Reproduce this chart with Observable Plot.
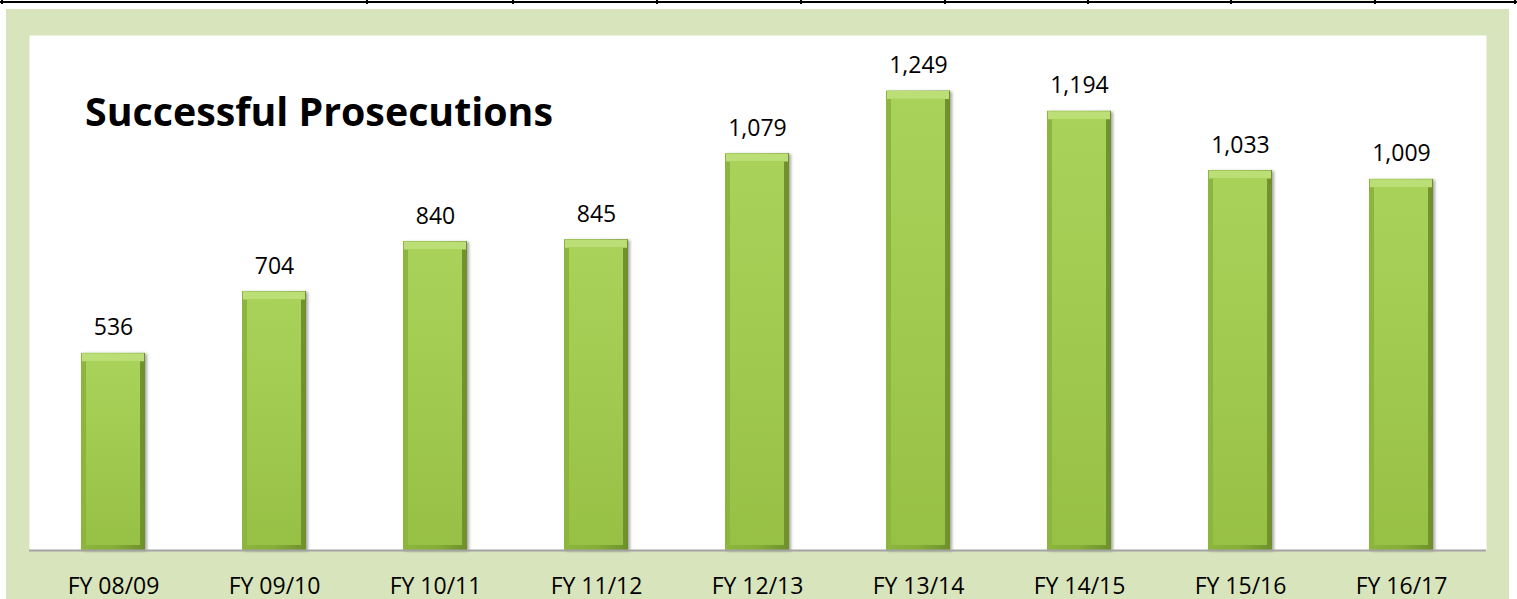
<!DOCTYPE html>
<html>
<head>
<meta charset="utf-8">
<script src="https://cdn.jsdelivr.net/npm/d3@7"></script>
<script src="https://cdn.jsdelivr.net/npm/@observablehq/plot@0.6"></script>
<style>
  html, body { margin: 0; padding: 0; background: #ffffff; }
  body { width: 1517px; height: 599px; position: relative; overflow: hidden; font-family: "Open Sans", sans-serif; }
  .hline { position: absolute; left: 0; width: 1517px; height: 2px; top: 1px; background: #000; }
  .vline { position: absolute; top: 0; width: 2px; height: 4px; background: #000; }
  .cell { position: absolute; top: 0; height: 2px; background: #eef3dd; }
  #panel { position: absolute; left: 6px; top: 9px; width: 1503px; height: 590px; background: #d8e4bc; }
  #title { position: absolute; left: 85px; top: 0; font-weight: 700; color: #000; white-space: nowrap; line-height: 1; }
</style>
</head>
<body>
<div class="cell" style="left:1232px;width:142px"></div>
<div class="hline"></div>
<div id="vlines"></div>
<div id="panel"></div>
<div id="title">Successful Prosecutions</div>
<script>
// ---- data ----
const years = ["FY 08/09", "FY 09/10", "FY 10/11", "FY 11/12", "FY 12/13", "FY 13/14", "FY 14/15", "FY 15/16", "FY 16/17"];
const prosecutions = [536, 704, 840, 845, 1079, 1249, 1194, 1033, 1009];
const titleText = "Successful Prosecutions";

// decorative table-border lines of the cropped page above the chart
const tableLines = [1, 366, 512, 656, 800, 944, 1087, 1230, 1374, 1514];
const vl = document.getElementById("vlines");
for (const x of tableLines) {
  const d = document.createElement("div");
  d.className = "vline";
  d.style.left = x + "px";
  vl.appendChild(d);
}

// title: fit to measured width, baseline at y = 123
const title = document.getElementById("title");
(function fitTitle() {
  const c = document.createElement("canvas").getContext("2d");
  c.font = "700 40px 'Open Sans'";
  const w = c.measureText(titleText).width;
  const size = 40 * 468 / w;
  title.style.fontSize = size.toFixed(2) + "px";
  title.style.top = (123 - size * 0.80) + "px";
})();

const data = years.map((y, i) => ({year: y, value: prosecutions[i]}));

const defs = () => {
  const s = d3.create("svg:defs");
  const side = s.append("linearGradient").attr("id", "sideGrad").attr("x1", 0).attr("x2", 1).attr("y1", 0).attr("y2", 0);
  side.append("stop").attr("offset", "0%").attr("stop-color", "#8cb63c");
  side.append("stop").attr("offset", "50%").attr("stop-color", "#86ae39");
  side.append("stop").attr("offset", "100%").attr("stop-color", "#6e8f2c");
  const face = s.append("linearGradient").attr("id", "faceGrad").attr("x1", 0).attr("x2", 0).attr("y1", 0).attr("y2", 1);
  face.append("stop").attr("offset", "0%").attr("stop-color", "#a9d25a");
  face.append("stop").attr("offset", "100%").attr("stop-color", "#97c145");
  const f = s.append("filter").attr("id", "shadow").attr("x", "-20%").attr("y", "-5%").attr("width", "150%").attr("height", "115%");
  f.append("feDropShadow").attr("dx", 2).attr("dy", 1).attr("stdDeviation", 1.6).attr("flood-color", "#000").attr("flood-opacity", 0.35);
  return s.node();
};

const chart = Plot.plot({
  width: 1503,
  height: 590,
  marginLeft: 23,
  marginRight: 23,
  marginTop: 26,
  marginBottom: 49,
  style: {background: "transparent", fontFamily: "'Open Sans', sans-serif", color: "#000", overflow: "visible"},
  x: {domain: years, paddingInner: 0.6, paddingOuter: 0.3, label: null},
  y: {domain: [0, 1400], axis: null},
  marks: [
    defs,
    Plot.frame({fill: "#ffffff", stroke: null}),
    Plot.barY(data, {x: "year", y: "value", fill: "url(#sideGrad)"}),
    Plot.tickY(data, {x: "year", y: "value", stroke: "#bbdf76", strokeWidth: 8, dy: 4, insetLeft: 1, insetRight: 1}),
    Plot.barY(data, {x: "year", y: "value", fill: "url(#faceGrad)", insetLeft: 5, insetRight: 5, insetTop: 8, insetBottom: 5}),
    Plot.ruleY([0], {stroke: "#a3a3a3", strokeWidth: 2}),
    Plot.text(data, {x: "year", y: "value", text: d => d3.format(",")(d.value), dy: -18, lineAnchor: "bottom", fontSize: 23, fill: "#000"}),
    Plot.axisX({tickSize: 0, tickPadding: 27, fontSize: 23, fill: "#000", label: null})
  ]
});
const panel = document.getElementById("panel");
panel.appendChild(chart);
chart.style.position = "absolute";
chart.style.left = "0px";
chart.style.top = "0px";
const g = chart.querySelectorAll("g[aria-label='bar']")[0];
if (g) g.setAttribute("filter", "url(#shadow)");
</script>
</body>
</html>
